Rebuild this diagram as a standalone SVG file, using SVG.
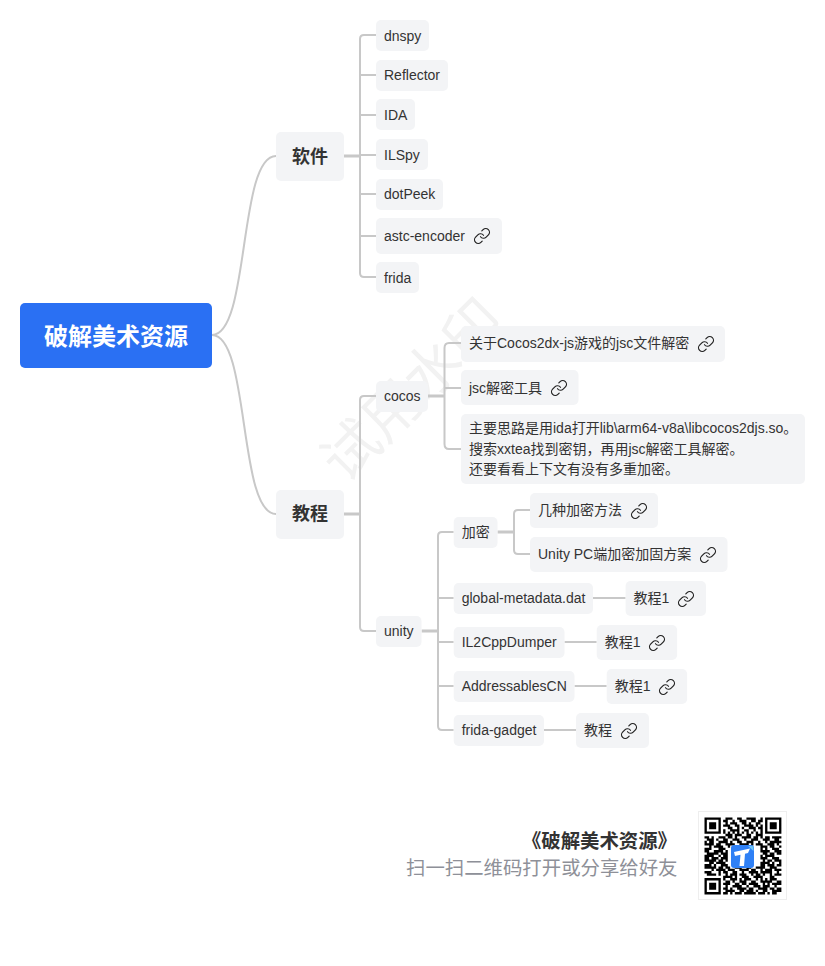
<svg xmlns="http://www.w3.org/2000/svg" width="825" height="966" viewBox="0 0 825 966">
<style>
text{font-family:"Liberation Sans","Noto Sans CJK SC",sans-serif;font-size:14px;fill:#333}
.n{fill:#f3f4f6}
.b{font-size:18px;font-weight:700}
.c{fill:none;stroke:#c8c8c8;stroke-width:2}
.s{fill:none;stroke:#c8c8c8;stroke-width:3}
.l{fill:none;stroke:#222;stroke-width:1.6;stroke-linecap:round;stroke-linejoin:round}
</style>
<defs>
<symbol id="link" viewBox="0 0 24 24"><path class="l" d="M10 13a5 5 0 0 0 7.54.54l3-3a5 5 0 0 0-7.07-7.07l-1.72 1.71M14 11a5 5 0 0 0-7.54-.54l-3 3a5 5 0 0 0 7.07 7.07l1.71-1.71"/></symbol>
</defs>
<rect width="825" height="966" fill="#fff"/>
<text transform="translate(412 390) rotate(-45)" text-anchor="middle" y="20" style="font-size:57px;fill:#f2f2f2">试用水印</text>
<g id="connectors">
<path class="c" d="M212 335C250 335 238 156 276 156M212 335C250 335 238 514 276 514"/>
<path class="s" d="M344 156H360M344 514H360M428 396H444M421.600 631H438M497.500 532H514"/>
<path class="c" d="M376 35H364Q360 35 360 39V273Q360 277 364 277H376M360 75H376M360 115H376M360 155H376M360 194H376M360 236H376"/>
<path class="c" d="M376 396H364Q360 396 360 400V627Q360 631 364 631H376"/>
<path class="c" d="M461 343H449Q444.500 343 444.500 348V444Q444.500 449 449 449H461M444.500 388H461"/>
<path class="c" d="M453.700 532H442Q438 532 438 536V726Q438 730 442 730H453.700M438 598H453.700M438 642H453.700M438 686H453.700"/>
<path class="c" d="M530 510H518Q514 510 514 514V550Q514 554 518 554H530"/>
<path class="c" d="M593 598H625.600M564.500 642H596.700M574.500 686H606.700M544 730H576"/>
</g>
<g id="root"><rect x="20" y="303" width="192" height="65" rx="5" fill="#2a70f3"/><text x="116" y="345" text-anchor="middle" style="font-size:24px;font-weight:700;fill:#fff">破解美术资源</text></g>
<g id="n-software"><rect class="n" x="276" y="132" width="68" height="49" rx="5"/><text class="b" x="292" y="163">软件</text></g>
<g id="n-dnspy"><rect class="n" x="376" y="20" width="53" height="31" rx="5"/><text x="384" y="40.500">dnspy</text></g>
<g id="n-reflector"><rect class="n" x="376" y="60" width="72" height="31" rx="5"/><text x="384" y="80">Reflector</text></g>
<g id="n-ida"><rect class="n" x="376" y="99" width="39" height="31" rx="5"/><text x="384" y="120">IDA</text></g>
<g id="n-ilspy"><rect class="n" x="376" y="139" width="52" height="31" rx="5"/><text x="384" y="160">ILSpy</text></g>
<g id="n-dotpeek"><rect class="n" x="376" y="179" width="67" height="31" rx="5"/><text x="384" y="199">dotPeek</text></g>
<g id="n-astc"><rect class="n" x="376" y="218" width="126" height="36" rx="5"/><text x="384" y="241">astc-encoder</text><use href="#link" x="473" y="227" width="18" height="18"/></g>
<g id="n-frida"><rect class="n" x="376" y="262" width="43" height="31" rx="5"/><text x="384" y="283">frida</text></g>
<g id="n-tutorial"><rect class="n" x="276" y="490" width="68" height="49" rx="5"/><text class="b" x="292" y="520">教程</text></g>
<g id="n-cocos"><rect class="n" x="376" y="381" width="52" height="31" rx="5"/><text x="384" y="401">cocos</text></g>
<g id="n-c1"><rect class="n" x="461" y="326" width="264" height="36" rx="5"/><text x="469" y="348">关于Cocos2dx-js游戏的jsc文件解密</text><use href="#link" x="697" y="335" width="18" height="18"/></g>
<g id="n-c2"><rect class="n" x="461" y="370" width="117.500" height="35" rx="5"/><text x="469" y="393">jsc解密工具</text><use href="#link" x="550" y="379" width="18" height="18"/></g>
<g id="n-c3"><rect class="n" x="461" y="414" width="344" height="70" rx="5"/><text x="469" y="433">主要思路是用ida打开lib\arm64-v8a\libcocos2djs.so。</text><text x="469" y="454">搜索xxtea找到密钥，再用jsc解密工具解密。</text><text x="469" y="474">还要看看上下文有没有多重加密。</text></g>
<g id="n-unity"><rect class="n" x="376" y="616" width="45.500" height="31" rx="5"/><text x="384" y="636">unity</text></g>
<g id="n-enc"><rect class="n" x="453.700" y="517" width="43.800" height="31" rx="5"/><text x="461.700" y="537">加密</text></g>
<g id="n-e1"><rect class="n" x="530" y="493" width="128" height="35" rx="5"/><text x="538" y="515">几种加密方法</text><use href="#link" x="630" y="502" width="18" height="18"/></g>
<g id="n-e2"><rect class="n" x="530" y="537" width="197.500" height="35" rx="5"/><text x="538" y="559">Unity PC端加密加固方案</text><use href="#link" x="699" y="546" width="18" height="18"/></g>
<g id="n-gm"><rect class="n" x="453.700" y="583" width="139.300" height="31" rx="5"/><text x="461.700" y="603">global-metadata.dat</text></g>
<g id="n-gm1"><rect class="n" x="625.600" y="581" width="80.400" height="35" rx="5"/><text x="633.600" y="603">教程1</text><use href="#link" x="677" y="590" width="18" height="18"/></g>
<g id="n-il"><rect class="n" x="453.700" y="627" width="110.800" height="31" rx="5"/><text x="461.700" y="647">IL2CppDumper</text></g>
<g id="n-il1"><rect class="n" x="596.700" y="625" width="80.400" height="35" rx="5"/><text x="604.700" y="647">教程1</text><use href="#link" x="648" y="634" width="18" height="18"/></g>
<g id="n-ad"><rect class="n" x="453.700" y="671" width="120.800" height="31" rx="5"/><text x="461.700" y="691">AddressablesCN</text></g>
<g id="n-ad1"><rect class="n" x="606.700" y="669" width="80.400" height="35" rx="5"/><text x="614.700" y="691">教程1</text><use href="#link" x="658" y="678" width="18" height="18"/></g>
<g id="n-fg"><rect class="n" x="453.700" y="715" width="90.300" height="31" rx="5"/><text x="461.700" y="735">frida-gadget</text></g>
<g id="n-fg1"><rect class="n" x="576" y="713" width="73" height="35" rx="5"/><text x="584" y="735">教程</text><use href="#link" x="620" y="722" width="18" height="18"/></g>
<g id="footer">
<text x="677" y="848" text-anchor="end" style="font-size:19.400px;font-weight:700">《破解美术资源》</text>
<text x="677.500" y="875" text-anchor="end" style="font-size:19.400px;fill:#8e9098">扫一扫二维码打开或分享给好友</text>
<rect x="698.500" y="811.500" width="88" height="88" fill="#fff" stroke="#eee"/>
<g transform="translate(704.500 817.500) scale(2.33)"><path fill="none" stroke="#000" d="M0 .5h7M9 .5h3M14 .5h2M18 .5h4M24 .5h1M26 .5h7M0 1.500h1M6 1.500h1M8 1.500h2M12 1.500h1M15 1.500h3M20 1.500h2M23 1.500h2M26 1.500h1M32 1.500h1M0 2.500h1M2 2.500h3M6 2.500h1M9 2.500h1M11 2.500h3M16 2.500h2M19 2.500h1M22 2.500h2M26 2.500h1M28 2.500h3M32 2.500h1M0 3.500h1M2 3.500h3M6 3.500h1M8 3.500h3M13 3.500h2M17 3.500h4M22 3.500h1M24 3.500h1M26 3.500h1M28 3.500h3M32 3.500h1M0 4.500h1M2 4.500h3M6 4.500h1M10 4.500h2M14 4.500h1M16 4.500h1M19 4.500h3M23 4.500h2M26 4.500h1M28 4.500h3M32 4.500h1M0 5.500h1M6 5.500h1M8 5.500h1M11 5.500h4M17 5.500h2M21 5.500h1M24 5.500h1M26 5.500h1M32 5.500h1M0 6.500h7M8 6.500h1M10 6.500h1M12 6.500h1M14 6.500h1M16 6.500h1M18 6.500h1M20 6.500h1M22 6.500h1M24 6.500h1M26 6.500h7M9 7.500h3M13 7.500h3M18 7.500h2M22 7.500h3M0 8.500h2M3 8.500h1M6 8.500h3M10 8.500h2M13 8.500h1M16 8.500h4M21 8.500h2M24 8.500h1M26 8.500h2M29 8.500h4M1 9.500h3M5 9.500h1M8 9.500h2M12 9.500h3M17 9.500h1M20 9.500h3M25 9.500h3M30 9.500h2M0 10.500h1M2 10.500h2M6 10.500h4M11 10.500h1M14 10.500h2M18 10.500h3M23 10.500h1M26 10.500h1M28 10.500h5M0 11.500h4M5 11.500h2M9 11.500h4M15 11.500h4M20 11.500h1M22 11.500h3M27 11.500h3M31 11.500h1M2 12.500h1M4 12.500h4M10 12.500h1M24 12.500h3M28 12.500h2M32 12.500h1M0 13.500h3M6 13.500h3M24 13.500h1M26 13.500h1M29 13.500h3M0 14.500h2M4 14.500h4M9 14.500h1M24 14.500h4M30 14.500h3M1 15.500h5M7 15.500h3M25 15.500h2M28 15.500h2M31 15.500h2M0 16.500h4M6 16.500h1M8 16.500h2M24 16.500h1M26 16.500h4M0 17.500h2M3 17.500h3M7 17.500h3M24 17.500h3M29 17.500h3M0 18.500h5M6 18.500h2M9 18.500h1M25 18.500h1M27 18.500h2M30 18.500h3M2 19.500h2M5 19.500h4M24 19.500h4M29 19.500h1M32 19.500h1M0 20.500h3M4 20.500h1M7 20.500h3M24 20.500h2M27 20.500h3M31 20.500h2M0 21.500h5M6 21.500h2M9 21.500h2M13 21.500h3M18 21.500h2M22 21.500h4M28 21.500h3M3 22.500h1M5 22.500h4M10 22.500h3M15 22.500h4M20 22.500h2M24 22.500h1M26 22.500h3M30 22.500h3M0 23.500h3M6 23.500h1M8 23.500h2M12 23.500h2M16 23.500h1M19 23.500h4M24 23.500h5M31 23.500h1M1 24.500h4M6 24.500h1M9 24.500h1M11 24.500h3M15 24.500h3M20 24.500h1M22 24.500h2M25 24.500h1M28 24.500h1M30 24.500h3M8 25.500h4M13 25.500h1M16 25.500h3M21 25.500h3M24 25.500h1M28 25.500h2M0 26.500h7M8 26.500h1M11 26.500h3M15 26.500h1M17 26.500h3M22 26.500h1M24 26.500h1M26 26.500h1M28 26.500h3M0 27.500h1M6 27.500h1M9 27.500h2M12 27.500h1M15 27.500h3M20 27.500h2M24 27.500h5M31 27.500h2M0 28.500h1M2 28.500h3M6 28.500h1M8 28.500h3M13 28.500h2M16 28.500h2M19 28.500h4M25 28.500h1M27 28.500h1M29 28.500h4M0 29.500h1M2 29.500h3M6 29.500h1M9 29.500h1M12 29.500h4M18 29.500h1M21 29.500h3M25 29.500h3M30 29.500h1M0 30.500h1M2 30.500h3M6 30.500h1M8 30.500h2M11 30.500h1M14 30.500h4M19 30.500h2M23 30.500h4M28 30.500h2M31 30.500h2M0 31.500h1M6 31.500h1M9 31.500h4M15 31.500h2M18 31.500h3M22 31.500h1M25 31.500h2M29 31.500h4M0 32.500h7M8 32.500h2M11 32.500h1M13 32.500h3M17 32.500h5M23 32.500h3M27 32.500h1M29 32.500h2"/></g>
<rect x="731" y="845" width="23" height="23" rx="3" fill="#2f80f5"/>
<path d="M748 846h4a1.500 1.500 0 0 1 1.500 1.500V851z" fill="#6cc6f7"/>
<path d="M734 852L750 848.500L748 853L745 853.800L744 866H739.500L740.500 854.800L735 856z" fill="#fff"/>
</g>
</svg>
